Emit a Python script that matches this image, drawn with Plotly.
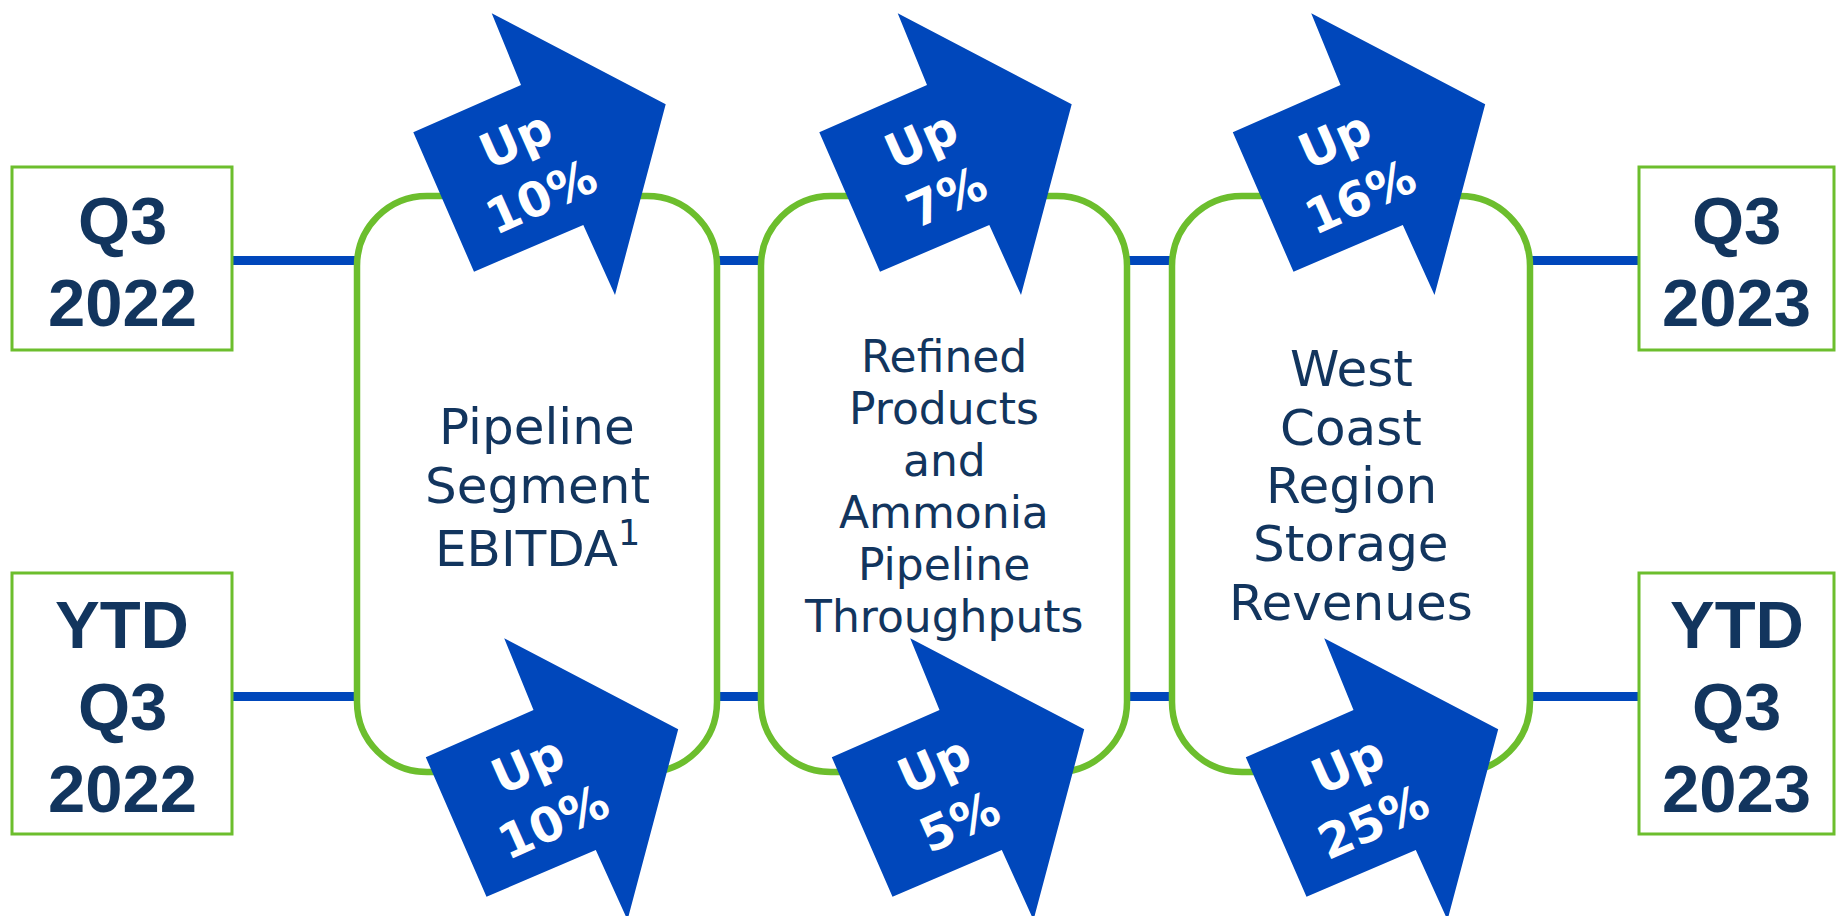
import plotly.graph_objects as go

# ---------------- data ----------------
start_periods = ["Q3<br>2022", "YTD<br>Q3<br>2022"]
end_periods = ["Q3<br>2023", "YTD<br>Q3<br>2023"]
metrics = [
    "Pipeline<br>Segment<br>EBITDA<sup>1</sup>",
    "Refined<br>Products<br>and<br>Ammonia<br>Pipeline<br>Throughputs",
    "West<br>Coast<br>Region<br>Storage<br>Revenues",
]
q3_change_pct = [10, 7, 16]
ytd_change_pct = [10, 5, 25]

# ---------------- style / layout ----------------
W, H = 1848, 916
PAGE_MARGIN = 8          # default body margin of the html page
BLUE = "#0047BB"
GREEN = "#6CBE2D"
NAVY = "#12355E"

row_y = [260.5, 696.5]                      # connector lines (Q3 row, YTD row)
period_box_y = [(167, 350), (573, 834)]
left_box_x = (12, 232)
right_box_x = (1639, 1834)
metric_box_x = [(357, 717), (761, 1127), (1172, 1530)]
metric_box_y = (196, 772)
metric_font = [50, 44, 50]
metric_line_gap = [59, 52, 58.3]
metric_center_y = 486
corner_r = 70

# arrow template (pixel space) and per-arrow offsets
arrow_tpl = [(491.7, 13.3), (665.7, 104.3), (615, 295), (583.3, 225),
             (474, 271.7), (413.3, 132.3), (521, 85)]
arrow_text_off = (528, 168)
top_arrow_dx = [0, 406, 819.5]
bottom_arrow_dx = [12.5, 418.5, 832.5]
bottom_arrow_dy = 625

fig = go.Figure()
shapes = []
annotations = []

# connector lines
for y in row_y:
    shapes.append(dict(type="line", x0=left_box_x[1], x1=right_box_x[0], y0=y, y1=y,
                       line=dict(color=BLUE, width=9), layer="above"))

# period boxes
for (y0, y1) in period_box_y:
    for (x0, x1) in (left_box_x, right_box_x):
        shapes.append(dict(type="rect", x0=x0, x1=x1, y0=y0, y1=y1,
                           line=dict(color=GREEN, width=3), fillcolor="white", layer="above"))


def rounded_path(x0, y0, x1, y1, r):
    k = 0.5523 * r
    return (f"M {x0 + r},{y0} L {x1 - r},{y0} "
            f"C {x1 - r + k},{y0} {x1},{y0 + r - k} {x1},{y0 + r} "
            f"L {x1},{y1 - r} "
            f"C {x1},{y1 - r + k} {x1 - r + k},{y1} {x1 - r},{y1} "
            f"L {x0 + r},{y1} "
            f"C {x0 + r - k},{y1} {x0},{y1 - r + k} {x0},{y1 - r} "
            f"L {x0},{y0 + r} "
            f"C {x0},{y0 + r - k} {x0 + r - k},{y0} {x0 + r},{y0} Z")


for (x0, x1) in metric_box_x:
    shapes.append(dict(type="path", path=rounded_path(x0, metric_box_y[0], x1, metric_box_y[1], corner_r),
                       line=dict(color=GREEN, width=6.5), fillcolor="white", layer="above"))


def arrow_path(dx, dy):
    pts = [(x + dx, y + dy) for x, y in arrow_tpl]
    return "M " + " L ".join(f"{x:.1f},{y:.1f}" for x, y in pts) + " Z"


arrow_specs = [(dx, 0, v) for dx, v in zip(top_arrow_dx, q3_change_pct)] + \
              [(dx, bottom_arrow_dy, v) for dx, v in zip(bottom_arrow_dx, ytd_change_pct)]
for dx, dy, v in arrow_specs:
    shapes.append(dict(type="path", path=arrow_path(dx, dy), fillcolor=BLUE,
                       line=dict(width=0), layer="above"))
    annotations.append(dict(x=arrow_text_off[0] + dx, y=arrow_text_off[1] + dy,
                            xref="x", yref="y", text=f"Up<br>{v}%", showarrow=False,
                            textangle=-24, xanchor="center", yanchor="middle", align="center",
                            font=dict(family="DejaVu Sans", size=48, color="white", weight="bold")))

# period labels
period_gap = 82
for labels, (bx0, bx1) in ((start_periods, left_box_x), (end_periods, right_box_x)):
    for lab, (y0, y1) in zip(labels, period_box_y):
        lines = lab.split("<br>")
        cy = (y0 + y1) / 2 + 3
        for i, ln in enumerate(lines):
            annotations.append(dict(x=(bx0 + bx1) / 2, y=cy + (i - (len(lines) - 1) / 2) * period_gap,
                                    xref="x", yref="y", text=ln, showarrow=False,
                                    xanchor="center", yanchor="middle",
                                    font=dict(family="Liberation Sans", size=67, color=NAVY, weight="bold")))

# metric labels
for m, (x0, x1), fs, gap in zip(metrics, metric_box_x, metric_font, metric_line_gap):
    lines = m.split("<br>")
    for i, ln in enumerate(lines):
        annotations.append(dict(x=(x0 + x1) / 2, y=metric_center_y + (i - (len(lines) - 1) / 2) * gap,
                                xref="x", yref="y", text=ln, showarrow=False,
                                xanchor="center", yanchor="middle",
                                font=dict(family="DejaVu Sans", size=fs, color=NAVY)))

fig.update_layout(
    width=W - PAGE_MARGIN, height=H - PAGE_MARGIN,
    margin=dict(l=0, r=0, t=0, b=0),
    paper_bgcolor="white", plot_bgcolor="white",
    xaxis=dict(range=[PAGE_MARGIN, W], visible=False, fixedrange=True),
    yaxis=dict(range=[H, PAGE_MARGIN], visible=False, fixedrange=True),
    shapes=shapes, annotations=annotations, showlegend=False,
)

fig.write_html("out.html", config={"displayModeBar": False})
